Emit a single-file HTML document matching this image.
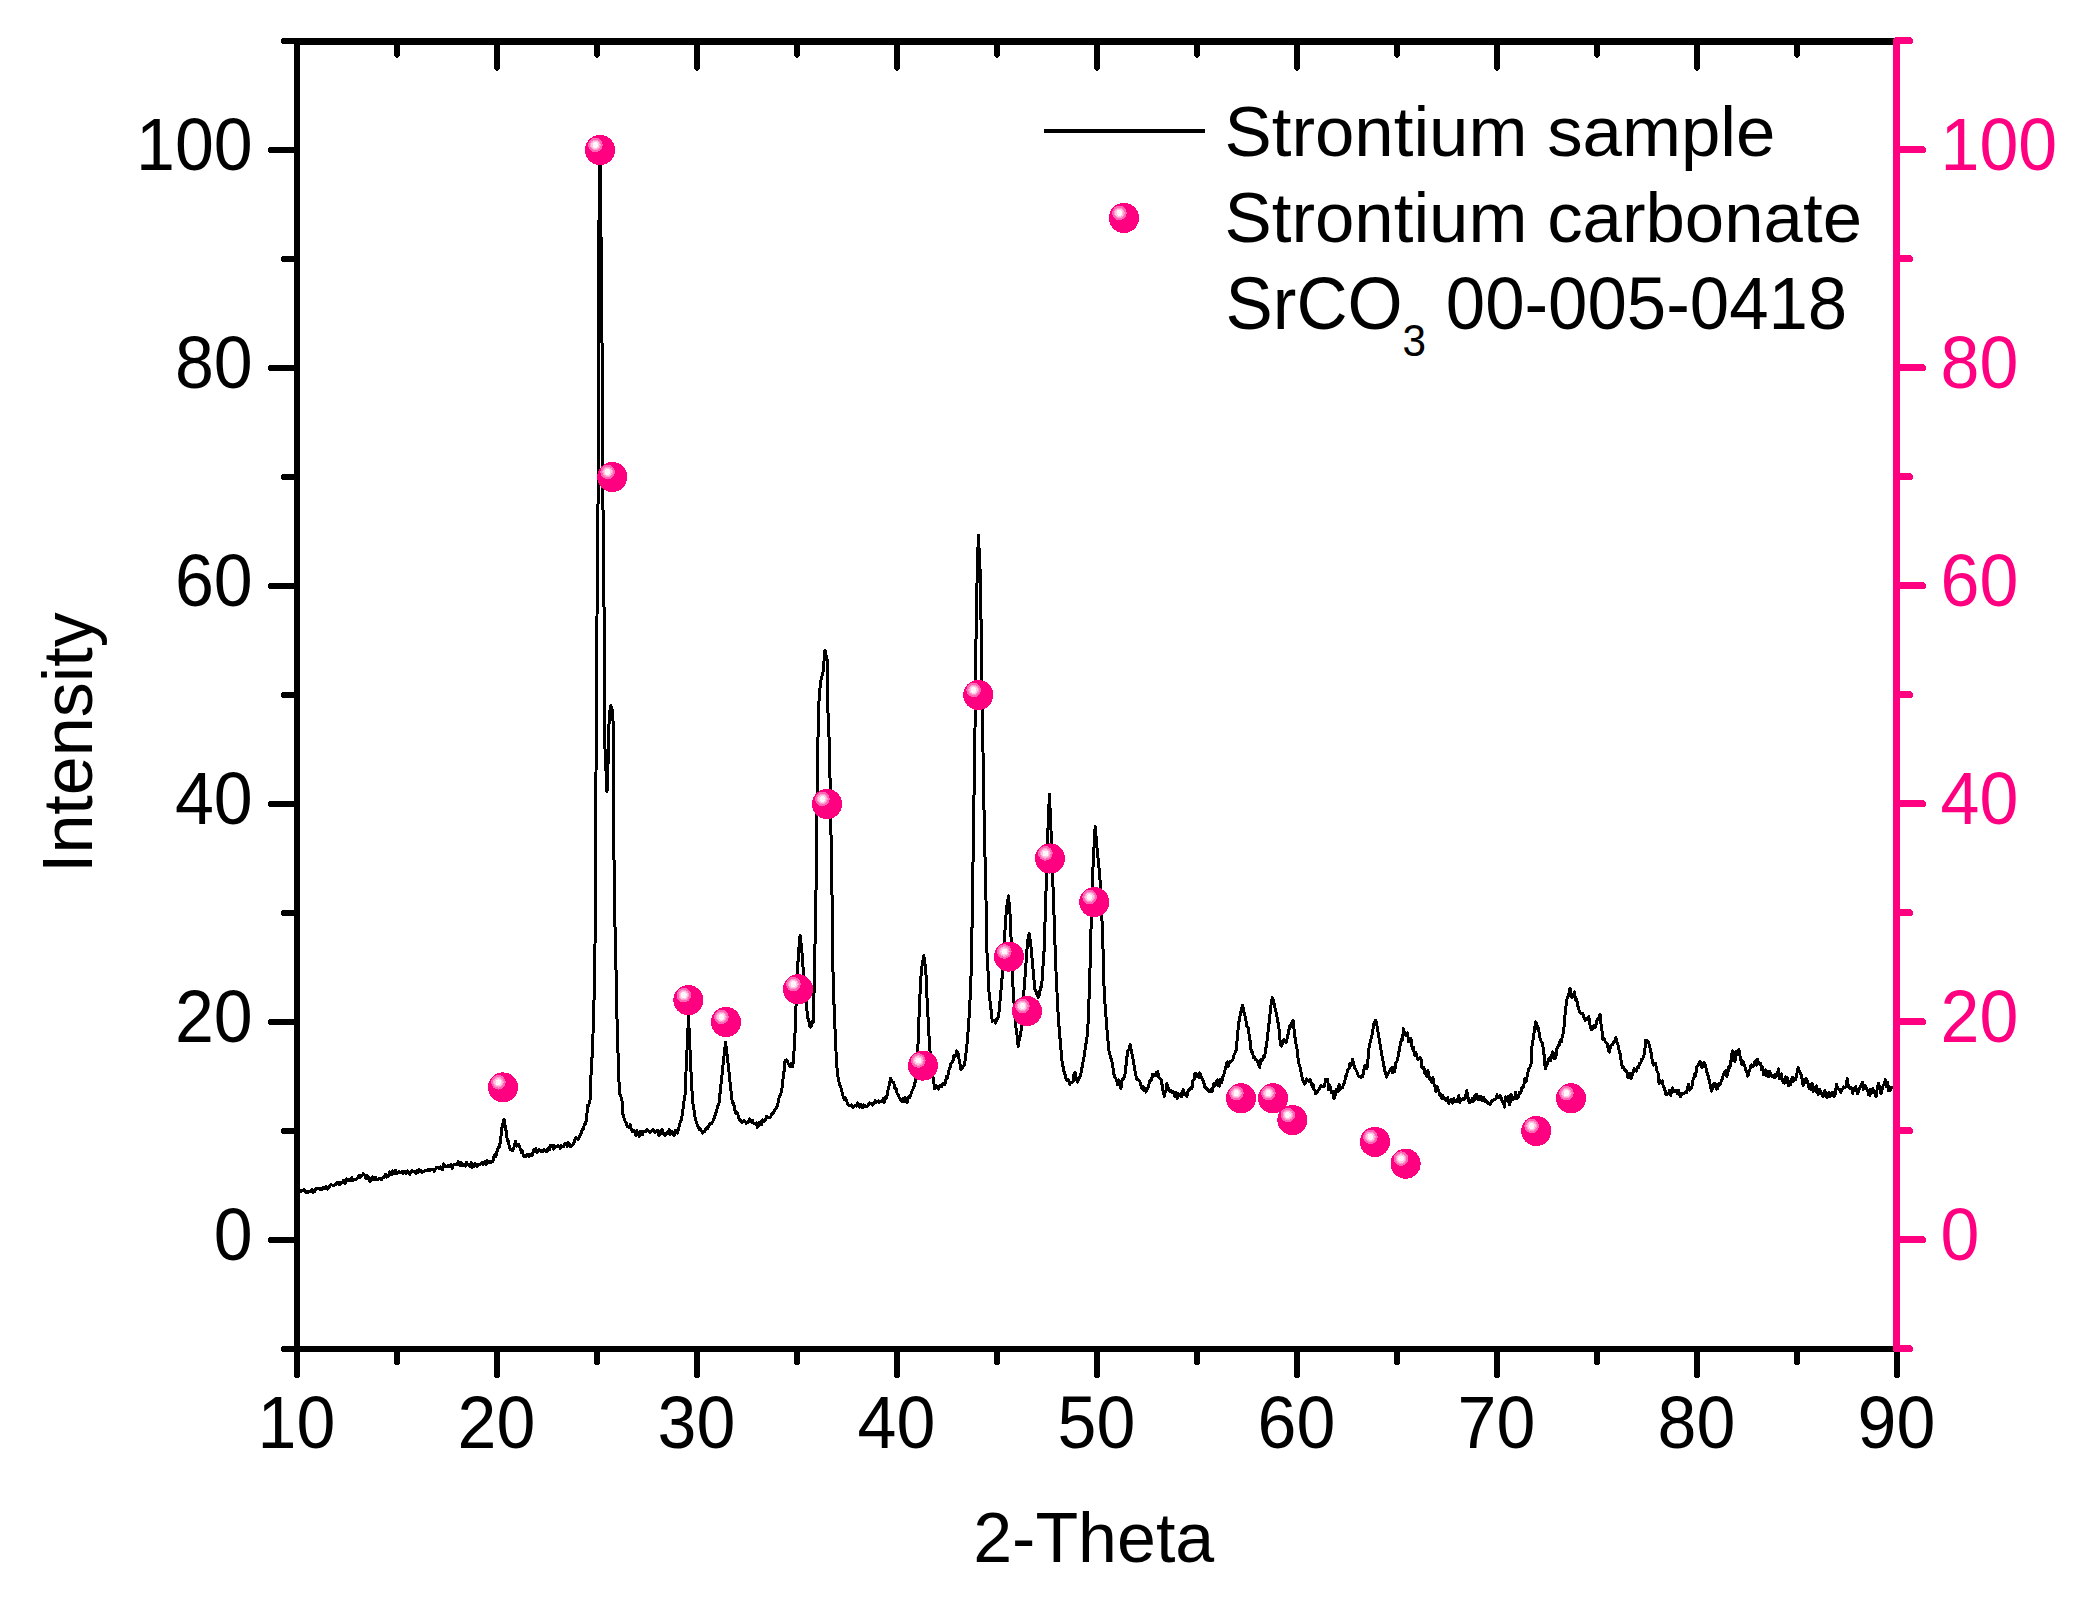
<!DOCTYPE html>
<html lang="en"><head><meta charset="utf-8"><title>XRD Strontium sample</title>
<style>html,body{margin:0;padding:0;background:#fff;overflow:hidden}svg{display:block}</style></head>
<body>
<svg width="2099" height="1615" viewBox="0 0 2099 1615" font-family='"Liberation Sans", sans-serif' font-size="70.8">
<rect width="2099" height="1615" fill="#fff"/>
<path d="M299.9 1190.3 L300.9 1191.3 L301.9 1190.5 L302.9 1190.4 L303.9 1189.7 L304.9 1190.7 L305.9 1192.3 L306.9 1191.5 L307.9 1192.3 L308.9 1191.5 L309.9 1191.7 L310.9 1191.5 L311.9 1189.3 L312.9 1192.4 L313.9 1191.7 L314.9 1191.4 L315.9 1188.4 L317.0 1188.0 L318.0 1188.7 L319.0 1188.9 L320.0 1189.6 L321.0 1188.8 L322.1 1189.2 L323.1 1187.4 L324.1 1188.3 L325.1 1188.1 L326.1 1186.5 L327.1 1189.1 L328.1 1187.4 L329.2 1187.8 L330.2 1185.3 L331.2 1184.8 L332.2 1185.0 L333.2 1185.0 L334.2 1185.6 L335.2 1184.8 L336.2 1183.7 L337.3 1182.7 L338.3 1183.0 L339.3 1184.8 L340.3 1182.0 L341.3 1183.0 L342.2 1183.0 L343.2 1180.3 L344.2 1182.0 L345.2 1183.3 L346.1 1178.9 L347.1 1180.7 L348.1 1180.7 L349.1 1179.5 L350.0 1180.9 L351.0 1179.9 L352.0 1177.8 L353.0 1180.3 L354.1 1179.7 L355.1 1179.7 L356.1 1179.9 L357.1 1178.2 L358.1 1177.5 L359.1 1175.3 L360.1 1177.3 L361.2 1175.4 L362.2 1175.2 L363.2 1173.8 L364.1 1174.8 L365.1 1175.9 L366.1 1178.8 L367.0 1175.1 L367.9 1176.4 L368.9 1179.2 L369.9 1181.3 L370.8 1180.7 L371.8 1177.4 L372.7 1176.8 L373.7 1179.8 L374.7 1178.2 L375.7 1177.5 L376.6 1180.0 L377.6 1179.9 L378.6 1178.5 L379.6 1178.4 L380.5 1178.5 L381.5 1179.7 L382.5 1178.1 L383.5 1177.6 L384.5 1177.2 L385.6 1174.1 L386.6 1177.3 L387.6 1176.5 L388.6 1175.5 L389.6 1171.9 L390.6 1173.2 L391.6 1174.7 L392.6 1170.9 L393.7 1172.6 L394.7 1173.7 L395.7 1170.3 L396.7 1173.7 L397.7 1172.4 L398.7 1171.5 L399.8 1172.2 L400.8 1172.6 L401.8 1172.0 L402.8 1173.4 L403.8 1171.1 L404.9 1171.4 L405.9 1173.4 L406.9 1172.1 L407.9 1171.0 L408.9 1173.4 L410.0 1174.1 L411.0 1171.7 L412.0 1170.5 L413.0 1172.0 L414.0 1171.8 L415.0 1171.4 L416.1 1173.5 L417.1 1170.2 L418.1 1173.0 L419.1 1169.6 L420.1 1170.0 L421.1 1171.8 L422.1 1172.3 L423.1 1171.7 L424.2 1170.9 L425.2 1170.5 L426.2 1170.4 L427.2 1170.8 L428.2 1169.6 L429.2 1170.0 L430.3 1170.2 L431.3 1169.2 L432.3 1170.0 L433.3 1169.6 L434.3 1171.3 L435.4 1168.8 L436.4 1167.6 L437.4 1167.5 L438.4 1167.8 L439.4 1168.8 L440.5 1167.0 L441.5 1167.7 L442.5 1169.5 L443.4 1163.9 L444.4 1165.1 L445.4 1166.8 L446.3 1166.8 L447.2 1166.4 L448.2 1165.3 L449.2 1166.6 L450.1 1165.9 L451.1 1164.7 L452.1 1168.3 L453.1 1165.7 L454.2 1164.4 L455.2 1164.9 L456.2 1164.6 L457.2 1164.7 L458.2 1161.7 L459.2 1163.9 L460.2 1165.9 L461.2 1162.8 L462.3 1164.2 L463.3 1165.5 L464.3 1165.3 L465.3 1166.0 L466.3 1162.0 L467.2 1164.1 L468.2 1164.4 L469.1 1165.9 L470.1 1166.9 L471.1 1162.7 L472.0 1167.4 L473.0 1164.2 L474.0 1166.8 L475.0 1163.4 L476.0 1165.3 L477.0 1166.3 L478.0 1164.1 L479.1 1164.2 L480.1 1164.7 L481.1 1163.4 L482.1 1162.7 L483.1 1164.6 L484.1 1163.5 L485.1 1161.3 L486.1 1164.7 L487.1 1160.1 L488.1 1163.0 L489.0 1161.3 L490.0 1161.9 L491.0 1162.7 L492.0 1162.0 L492.9 1161.1 L493.9 1156.5 L494.9 1155.0 L495.8 1156.5 L496.8 1152.0 L497.7 1149.6 L498.7 1146.7 L499.6 1146.4 L500.8 1137.8 L501.9 1128.1 L502.9 1123.9 L503.9 1119.0 L504.8 1124.2 L505.7 1128.1 L506.5 1133.8 L507.3 1140.3 L508.2 1141.2 L509.2 1146.3 L510.2 1149.9 L511.1 1149.0 L512.2 1150.9 L513.4 1148.5 L514.5 1145.4 L515.6 1141.3 L516.6 1146.3 L517.7 1144.5 L518.7 1144.1 L519.6 1147.3 L520.5 1149.1 L521.5 1152.5 L522.4 1150.7 L523.3 1155.6 L524.4 1156.5 L525.5 1156.9 L526.7 1154.9 L527.8 1154.5 L528.8 1156.5 L529.8 1154.7 L530.9 1154.2 L531.9 1155.6 L532.9 1152.7 L533.9 1149.4 L535.0 1151.5 L536.0 1148.9 L537.0 1152.2 L538.0 1151.3 L539.0 1149.7 L540.0 1150.4 L541.1 1151.4 L542.1 1150.2 L543.1 1151.7 L544.1 1149.6 L545.1 1151.0 L546.2 1151.4 L547.2 1151.4 L548.2 1147.9 L549.2 1150.0 L550.2 1145.8 L551.2 1146.6 L552.2 1145.1 L553.3 1149.2 L554.3 1145.7 L555.3 1147.2 L556.3 1146.6 L557.3 1146.6 L558.3 1145.6 L559.3 1146.5 L560.3 1148.5 L561.4 1145.7 L562.4 1146.2 L563.4 1146.6 L564.4 1144.6 L565.4 1143.1 L566.3 1144.1 L567.3 1146.5 L568.2 1142.5 L569.2 1144.0 L570.2 1146.4 L571.1 1146.1 L572.1 1144.9 L573.0 1144.8 L574.0 1142.7 L575.0 1139.5 L575.9 1137.7 L577.0 1138.2 L578.1 1139.6 L579.3 1136.5 L580.4 1135.1 L581.4 1132.8 L582.4 1129.2 L583.4 1128.8 L584.4 1124.3 L585.4 1123.6 L586.4 1120.1 L587.8 1105.0 L588.7 1105.7 L589.5 1101.3 L590.4 1099.3 L590.8 1078.4 L591.9 1060.6 L593.0 1033.8 L594.1 996.7 L595.0 944.6 L595.6 900.0 L595.5 807.0 L596.0 775.0 L596.5 690.0 L597.0 618.0 L597.6 530.0 L598.4 480.0 L598.4 340.0 L598.5 285.0 L599.5 160.0 L600.0 151.0 L600.4 160.0 L601.4 285.0 L601.5 340.0 L602.6 347.0 L602.6 480.0 L603.3 530.0 L603.5 580.0 L604.4 628.0 L604.6 740.0 L605.8 765.9 L607.0 792.0 L607.8 771.0 L608.5 750.0 L609.2 715.0 L610.0 710.6 L610.9 705.8 L611.8 708.9 L612.8 712.0 L613.4 736.0 L613.5 836.0 L614.3 873.0 L614.3 900.0 L614.9 922.3 L615.8 959.5 L616.4 989.2 L617.0 1019.0 L617.9 1048.7 L618.8 1078.4 L619.8 1093.7 L620.9 1096.3 L622.0 1100.7 L622.8 1113.8 L623.9 1117.5 L625.0 1121.1 L626.0 1122.6 L627.0 1126.0 L628.0 1127.0 L629.1 1127.6 L630.2 1124.7 L631.4 1130.1 L632.5 1131.7 L633.6 1130.2 L634.7 1130.9 L635.8 1135.5 L636.9 1130.8 L638.0 1133.8 L639.1 1136.1 L640.3 1131.0 L641.4 1133.1 L642.5 1134.5 L643.6 1131.1 L644.7 1131.7 L645.8 1131.9 L646.8 1129.3 L647.9 1130.7 L649.0 1131.5 L650.0 1132.5 L651.0 1131.0 L652.0 1130.7 L653.0 1129.6 L654.0 1130.8 L655.0 1132.8 L656.0 1131.8 L657.0 1130.5 L658.0 1130.6 L659.0 1135.5 L660.0 1134.0 L661.0 1133.4 L662.0 1129.1 L663.0 1133.7 L664.0 1133.6 L665.0 1135.6 L666.0 1133.6 L667.1 1132.8 L668.1 1133.7 L669.2 1129.8 L670.2 1134.4 L671.2 1133.3 L672.3 1131.6 L673.3 1134.7 L674.4 1135.4 L675.4 1130.4 L676.5 1131.5 L677.5 1133.0 L678.4 1129.7 L679.4 1125.6 L680.3 1121.6 L681.2 1120.0 L682.2 1114.7 L683.1 1108.0 L684.1 1100.7 L685.0 1095.0 L686.0 1071.9 L687.0 1050.0 L687.8 1033.3 L688.5 1015.0 L689.2 1033.0 L690.0 1050.0 L691.2 1075.9 L692.5 1100.0 L693.4 1106.6 L694.4 1112.1 L695.3 1118.9 L696.2 1121.6 L697.3 1125.1 L698.3 1127.4 L699.4 1129.6 L700.4 1128.9 L701.5 1131.1 L702.5 1133.2 L703.5 1132.1 L704.5 1131.5 L705.5 1129.8 L706.5 1128.0 L707.5 1128.8 L708.5 1126.6 L709.5 1124.2 L710.5 1123.5 L711.5 1123.5 L712.5 1122.3 L713.5 1119.8 L714.6 1116.7 L715.6 1114.0 L716.7 1110.6 L717.7 1105.9 L718.8 1105.0 L719.7 1096.5 L720.6 1088.0 L721.6 1079.0 L722.5 1070.0 L723.5 1060.7 L724.5 1051.9 L725.5 1042.5 L726.6 1051.2 L727.7 1059.9 L728.8 1070.0 L729.7 1078.8 L730.6 1087.1 L731.6 1096.6 L732.5 1103.3 L733.4 1103.3 L734.4 1107.1 L735.3 1113.2 L736.2 1111.9 L737.2 1112.2 L738.1 1115.0 L739.1 1119.0 L740.0 1120.8 L741.0 1120.4 L742.1 1122.6 L743.1 1121.4 L744.2 1120.3 L745.2 1121.4 L746.2 1123.2 L747.3 1122.2 L748.3 1122.3 L749.4 1119.0 L750.4 1120.6 L751.5 1122.1 L752.5 1120.5 L753.5 1123.3 L754.5 1123.1 L755.5 1124.1 L756.5 1122.9 L757.5 1127.3 L758.5 1125.1 L759.6 1122.1 L760.6 1122.0 L761.7 1124.8 L762.7 1120.0 L763.8 1121.3 L764.8 1120.8 L765.8 1118.6 L766.9 1116.0 L767.9 1117.6 L769.0 1117.2 L770.0 1117.9 L771.0 1116.1 L771.9 1113.6 L772.9 1113.7 L773.8 1112.0 L774.8 1110.2 L775.7 1108.7 L776.7 1107.0 L777.7 1105.2 L778.7 1099.0 L779.7 1096.3 L780.7 1094.0 L781.7 1090.7 L782.8 1081.1 L783.9 1072.7 L785.0 1060.7 L785.9 1060.4 L786.7 1059.9 L787.8 1062.7 L788.9 1064.4 L790.0 1066.9 L791.1 1063.3 L792.3 1067.0 L793.4 1062.3 L794.2 1048.4 L795.0 1033.9 L795.9 1009.3 L796.7 983.7 L797.7 966.9 L798.7 950.3 L800.1 935.2 L801.0 942.7 L801.8 950.3 L803.0 966.9 L804.3 983.7 L805.4 995.2 L806.5 1006.4 L807.6 1017.1 L808.9 1021.2 L810.1 1027.1 L811.1 1026.6 L812.1 1020.9 L813.1 1022.2 L814.3 983.7 L815.5 916.9 L816.4 870.0 L817.6 752.0 L818.4 723.2 L819.2 694.7 L820.0 687.8 L820.8 680.9 L822.0 676.1 L823.1 671.8 L824.0 660.9 L825.0 650.0 L826.1 655.2 L827.3 660.3 L827.7 706.0 L828.7 729.0 L829.6 752.0 L830.7 820.7 L831.8 870.0 L832.2 916.9 L833.2 983.7 L834.2 1009.2 L835.2 1033.9 L836.0 1051.4 L836.9 1067.3 L837.7 1075.4 L838.5 1080.1 L839.5 1084.5 L840.5 1086.5 L841.5 1089.5 L842.5 1094.2 L843.5 1097.4 L844.5 1099.9 L845.5 1098.0 L846.6 1100.3 L847.6 1104.0 L848.6 1105.4 L849.6 1105.3 L850.6 1105.8 L851.6 1104.7 L852.6 1107.4 L853.6 1106.9 L854.6 1106.2 L855.6 1105.3 L856.6 1106.3 L857.6 1102.9 L858.6 1105.1 L859.6 1107.0 L860.6 1104.5 L861.6 1107.5 L862.6 1107.5 L863.6 1105.0 L864.6 1106.5 L865.5 1105.9 L866.5 1106.7 L867.4 1106.5 L868.4 1104.9 L869.3 1103.0 L870.3 1103.7 L871.3 1103.7 L872.3 1105.0 L873.3 1104.0 L874.3 1102.1 L875.3 1100.8 L876.3 1102.4 L877.3 1101.6 L878.3 1100.8 L879.3 1102.4 L880.3 1101.5 L881.3 1101.6 L882.2 1101.4 L883.2 1098.8 L884.1 1102.4 L885.1 1097.1 L886.0 1098.6 L887.0 1095.7 L888.2 1089.1 L889.5 1084.3 L890.5 1078.2 L891.6 1080.6 L892.7 1082.1 L893.7 1082.6 L894.8 1088.4 L895.9 1088.2 L897.0 1093.0 L898.0 1094.6 L899.1 1097.4 L900.2 1099.1 L901.2 1100.4 L902.2 1101.3 L903.1 1098.2 L904.1 1101.9 L905.1 1097.8 L906.0 1099.7 L907.0 1102.8 L908.0 1097.3 L909.0 1096.4 L910.0 1097.1 L911.0 1093.8 L912.0 1091.0 L913.1 1089.0 L914.3 1085.6 L915.4 1080.7 L916.6 1064.3 L917.9 1047.2 L918.8 1023.4 L919.6 1000.4 L920.5 986.3 L921.3 970.3 L922.5 962.9 L923.8 955.3 L924.8 962.8 L925.8 970.3 L927.1 1000.4 L928.4 1023.9 L929.6 1047.2 L930.7 1057.0 L931.9 1068.0 L933.0 1077.3 L933.8 1081.9 L934.6 1088.5 L935.6 1086.3 L936.6 1085.8 L937.5 1088.2 L938.5 1089.2 L939.5 1086.6 L940.5 1085.3 L941.5 1086.8 L942.5 1084.1 L943.5 1083.6 L944.5 1084.6 L945.5 1082.7 L946.5 1076.4 L947.6 1078.0 L948.7 1070.7 L949.7 1068.7 L950.8 1063.9 L951.9 1062.8 L953.0 1060.6 L953.9 1055.9 L954.7 1056.3 L955.8 1055.6 L956.9 1050.9 L958.0 1053.1 L958.9 1058.5 L959.7 1062.6 L961.0 1069.4 L962.2 1068.2 L963.5 1066.3 L964.7 1063.9 L966.0 1052.9 L967.2 1042.2 L968.5 1025.4 L969.7 1008.8 L970.5 987.3 L971.4 967.0 L972.3 908.5 L972.9 870.0 L974.3 774.9 L975.7 683.2 L976.1 628.3 L977.3 568.7 L978.4 535.5 L979.2 552.1 L980.0 568.7 L981.2 628.3 L981.9 683.2 L983.0 752.0 L984.2 820.7 L985.3 870.0 L986.0 900.1 L986.9 950.3 L988.0 971.1 L989.0 992.1 L990.1 1001.5 L991.2 1011.2 L992.3 1021.4 L993.4 1020.9 L994.5 1020.5 L995.6 1023.3 L996.7 1018.5 L997.9 1018.6 L999.0 1012.1 L1000.1 1000.3 L1001.2 987.6 L1002.3 975.4 L1003.5 954.5 L1004.8 933.6 L1005.6 921.0 L1006.5 908.5 L1007.5 902.2 L1008.5 896.0 L1009.4 906.4 L1010.3 916.9 L1011.5 950.3 L1012.4 971.2 L1013.2 992.1 L1014.5 1009.1 L1015.7 1025.5 L1017.0 1034.6 L1018.2 1046.9 L1019.5 1037.9 L1020.7 1035.5 L1022.0 1018.0 L1023.2 1000.4 L1024.5 983.8 L1025.7 967.0 L1026.7 953.5 L1027.7 940.3 L1029.1 933.6 L1029.9 938.6 L1030.7 943.6 L1031.8 955.3 L1032.8 967.0 L1033.8 977.9 L1034.9 989.5 L1036.0 991.0 L1037.2 995.0 L1038.3 997.2 L1039.4 995.2 L1040.5 986.8 L1041.6 987.1 L1042.8 968.6 L1044.1 950.3 L1044.9 925.2 L1045.8 900.1 L1046.6 866.7 L1047.4 843.6 L1048.4 818.9 L1049.4 794.3 L1050.5 818.9 L1051.6 843.6 L1052.5 873.4 L1053.3 895.2 L1054.1 916.9 L1054.9 941.9 L1055.8 967.0 L1057.0 992.4 L1058.3 1017.1 L1059.4 1031.5 L1060.6 1045.1 L1061.7 1058.9 L1062.8 1065.3 L1063.9 1071.1 L1065.0 1074.6 L1066.0 1078.4 L1067.0 1080.4 L1068.0 1079.6 L1068.9 1081.6 L1069.9 1084.3 L1070.9 1082.3 L1071.9 1082.3 L1073.0 1081.7 L1074.0 1074.2 L1075.0 1072.3 L1075.8 1076.6 L1076.7 1080.4 L1077.8 1082.0 L1078.8 1078.0 L1079.9 1077.4 L1080.9 1074.0 L1082.0 1067.5 L1083.1 1061.7 L1084.2 1055.6 L1085.3 1048.4 L1086.5 1040.1 L1087.6 1033.9 L1088.6 1009.6 L1089.6 983.7 L1090.9 933.6 L1092.3 883.4 L1093.3 860.0 L1094.2 843.3 L1095.2 826.4 L1096.2 838.1 L1097.2 850.0 L1098.1 858.4 L1098.9 866.7 L1099.8 875.0 L1100.7 894.6 L1101.7 914.1 L1102.6 933.6 L1103.4 963.4 L1104.2 993.4 L1105.5 1010.0 L1106.7 1026.9 L1108.0 1041.1 L1109.2 1052.5 L1110.2 1055.8 L1111.3 1059.3 L1112.4 1063.7 L1113.4 1071.0 L1114.5 1077.0 L1115.6 1077.8 L1116.7 1080.8 L1117.6 1084.9 L1118.6 1079.7 L1119.5 1081.0 L1120.9 1089.0 L1122.0 1079.7 L1123.0 1079.6 L1124.1 1077.2 L1125.1 1073.7 L1126.3 1063.0 L1127.6 1051.3 L1128.8 1049.6 L1130.1 1044.4 L1131.3 1050.8 L1132.6 1056.9 L1133.7 1062.8 L1134.8 1070.2 L1135.9 1075.9 L1136.9 1079.3 L1137.9 1079.4 L1138.9 1080.8 L1139.9 1081.7 L1140.9 1085.8 L1141.9 1088.1 L1142.9 1086.3 L1144.0 1090.4 L1145.0 1088.8 L1146.0 1092.1 L1147.2 1089.3 L1148.5 1086.7 L1149.5 1081.4 L1150.5 1080.6 L1151.5 1079.6 L1152.5 1074.7 L1153.5 1076.2 L1154.6 1074.3 L1155.7 1075.8 L1156.8 1072.2 L1157.8 1071.8 L1158.9 1077.1 L1160.0 1078.8 L1161.0 1079.5 L1162.1 1085.0 L1163.2 1091.7 L1164.3 1096.5 L1165.2 1092.4 L1166.0 1091.3 L1166.9 1083.8 L1167.9 1086.6 L1168.9 1089.0 L1169.9 1091.7 L1170.9 1090.7 L1171.9 1092.6 L1172.9 1091.1 L1174.0 1093.5 L1175.0 1096.6 L1176.1 1092.3 L1177.1 1098.6 L1178.1 1093.2 L1179.2 1095.0 L1180.2 1095.8 L1181.2 1097.0 L1182.1 1091.9 L1183.1 1089.7 L1184.0 1094.7 L1185.0 1094.6 L1185.9 1093.8 L1186.9 1096.5 L1187.9 1091.1 L1188.9 1089.9 L1189.9 1089.9 L1190.9 1087.5 L1191.9 1088.8 L1193.0 1080.3 L1194.0 1079.6 L1195.0 1073.3 L1196.1 1077.0 L1197.0 1073.9 L1197.9 1075.9 L1198.9 1077.8 L1199.8 1072.8 L1200.8 1075.3 L1201.8 1077.9 L1202.8 1080.3 L1203.8 1082.6 L1204.9 1087.1 L1206.0 1087.7 L1207.0 1089.6 L1208.0 1089.3 L1209.0 1091.7 L1210.0 1091.1 L1211.0 1089.9 L1212.0 1091.8 L1213.0 1087.6 L1214.1 1083.0 L1215.2 1085.8 L1216.2 1081.3 L1217.3 1080.0 L1218.4 1085.9 L1219.5 1086.1 L1220.5 1079.2 L1221.6 1082.9 L1222.7 1077.3 L1223.7 1075.5 L1225.0 1070.3 L1226.2 1065.8 L1227.2 1061.9 L1228.1 1066.2 L1229.1 1063.3 L1230.1 1061.6 L1231.0 1062.0 L1232.0 1060.5 L1233.0 1059.2 L1234.1 1054.5 L1235.2 1052.7 L1236.2 1050.3 L1237.5 1035.6 L1238.7 1023.5 L1240.0 1015.7 L1241.2 1009.9 L1242.6 1005.1 L1243.6 1011.0 L1244.6 1014.4 L1245.7 1018.8 L1246.8 1026.3 L1247.9 1026.9 L1249.0 1033.9 L1250.2 1041.8 L1251.3 1052.1 L1252.4 1052.0 L1253.5 1057.8 L1254.6 1057.1 L1255.6 1059.9 L1256.6 1060.1 L1257.6 1061.4 L1258.6 1064.3 L1259.6 1067.4 L1260.6 1060.2 L1261.6 1059.2 L1262.6 1060.3 L1263.6 1055.9 L1264.6 1056.9 L1265.8 1048.9 L1267.1 1040.2 L1268.3 1029.7 L1269.6 1018.5 L1270.4 1010.0 L1271.3 1002.9 L1272.4 997.7 L1273.5 1000.1 L1274.5 1005.6 L1275.5 1010.1 L1276.6 1014.7 L1277.7 1020.9 L1278.8 1026.9 L1279.7 1036.1 L1280.5 1045.2 L1281.6 1046.0 L1282.8 1042.3 L1283.9 1039.4 L1285.0 1040.8 L1286.1 1042.5 L1287.2 1038.6 L1288.5 1031.9 L1289.7 1026.0 L1290.8 1026.2 L1291.9 1022.4 L1293.0 1020.2 L1293.8 1026.9 L1294.7 1035.2 L1296.0 1044.2 L1297.2 1050.3 L1298.1 1058.4 L1298.9 1063.6 L1300.0 1066.8 L1301.1 1072.5 L1302.2 1077.9 L1303.5 1082.0 L1304.7 1084.2 L1305.8 1081.4 L1306.8 1078.9 L1307.9 1080.5 L1308.9 1081.7 L1310.0 1079.5 L1311.0 1081.9 L1312.0 1086.3 L1313.1 1084.5 L1314.0 1089.6 L1314.9 1090.7 L1315.9 1094.0 L1316.8 1093.0 L1317.8 1090.7 L1318.7 1089.9 L1319.6 1088.8 L1320.6 1085.6 L1321.6 1085.9 L1322.6 1086.3 L1323.6 1086.1 L1324.6 1086.0 L1325.6 1079.5 L1326.6 1081.8 L1327.6 1079.4 L1328.7 1089.8 L1329.7 1085.6 L1330.7 1088.6 L1331.8 1092.9 L1332.9 1091.9 L1334.0 1098.9 L1335.0 1095.5 L1336.1 1089.3 L1337.2 1091.6 L1338.2 1091.3 L1339.2 1084.2 L1340.3 1089.6 L1341.4 1087.9 L1342.4 1088.0 L1343.4 1084.6 L1344.5 1083.2 L1345.5 1076.5 L1346.5 1075.6 L1347.8 1069.5 L1349.0 1068.6 L1349.9 1063.3 L1350.8 1063.0 L1351.8 1065.1 L1352.7 1059.4 L1353.7 1063.9 L1354.7 1067.7 L1355.7 1069.5 L1356.7 1071.1 L1357.7 1074.1 L1358.7 1076.6 L1359.6 1076.3 L1360.6 1077.3 L1361.6 1076.9 L1362.7 1076.6 L1363.8 1069.5 L1364.9 1065.8 L1366.2 1069.0 L1367.4 1067.0 L1368.2 1057.0 L1369.1 1046.9 L1370.2 1042.2 L1371.3 1037.6 L1372.4 1033.5 L1373.2 1027.5 L1374.1 1023.2 L1374.9 1021.8 L1375.8 1020.2 L1377.0 1026.0 L1378.3 1033.5 L1379.4 1040.5 L1380.5 1047.0 L1381.6 1053.6 L1382.8 1059.6 L1384.1 1067.0 L1385.3 1072.9 L1386.6 1077.2 L1387.7 1073.5 L1388.9 1072.4 L1390.0 1069.9 L1391.2 1068.0 L1392.5 1073.0 L1393.5 1067.5 L1394.6 1071.9 L1395.7 1063.4 L1396.7 1062.0 L1398.0 1057.0 L1399.2 1050.3 L1400.5 1043.2 L1401.7 1038.7 L1402.6 1040.1 L1403.4 1028.6 L1404.4 1032.8 L1405.5 1035.1 L1406.5 1034.0 L1407.5 1032.9 L1408.6 1041.7 L1409.8 1039.6 L1410.9 1038.2 L1412.2 1048.4 L1413.4 1047.2 L1414.5 1055.1 L1415.6 1052.6 L1416.7 1055.6 L1417.8 1059.8 L1418.8 1058.9 L1419.9 1057.2 L1420.9 1058.2 L1421.9 1067.0 L1422.9 1068.4 L1423.9 1067.2 L1424.9 1073.3 L1425.9 1074.8 L1426.9 1076.2 L1427.9 1070.7 L1428.9 1076.0 L1429.9 1079.7 L1430.9 1080.4 L1431.9 1082.4 L1432.9 1077.0 L1434.0 1084.1 L1435.0 1086.5 L1436.0 1092.0 L1437.0 1086.5 L1438.0 1089.6 L1439.0 1092.1 L1440.0 1095.7 L1441.0 1094.4 L1442.0 1099.0 L1442.9 1095.5 L1443.8 1098.9 L1444.8 1098.1 L1445.8 1100.6 L1446.7 1099.6 L1447.7 1097.5 L1448.7 1103.5 L1449.7 1101.7 L1450.7 1099.6 L1451.7 1101.3 L1452.7 1103.0 L1453.7 1098.4 L1454.7 1100.3 L1455.7 1101.7 L1456.7 1101.6 L1457.8 1099.4 L1458.8 1095.2 L1459.8 1102.6 L1460.9 1100.3 L1462.0 1099.4 L1463.0 1098.5 L1464.0 1099.5 L1465.1 1098.7 L1465.9 1094.3 L1466.7 1090.4 L1468.0 1096.8 L1469.2 1102.9 L1470.2 1102.1 L1471.3 1100.9 L1472.3 1098.5 L1473.4 1101.5 L1474.5 1095.8 L1475.5 1099.2 L1476.5 1094.2 L1477.6 1096.2 L1478.6 1099.5 L1479.6 1097.8 L1480.5 1096.6 L1481.5 1099.4 L1482.5 1100.6 L1483.5 1097.2 L1484.4 1099.9 L1485.4 1101.8 L1486.3 1100.5 L1487.3 1101.9 L1488.2 1103.5 L1489.2 1103.7 L1490.1 1104.2 L1491.1 1103.0 L1492.1 1100.5 L1493.1 1100.7 L1494.1 1099.6 L1495.1 1099.1 L1496.0 1098.9 L1497.0 1094.8 L1498.0 1097.6 L1499.0 1097.9 L1500.0 1095.2 L1501.0 1096.9 L1502.2 1101.2 L1503.5 1102.5 L1504.5 1107.2 L1505.6 1096.7 L1506.7 1100.8 L1507.7 1096.5 L1508.8 1102.6 L1509.8 1104.9 L1510.9 1094.1 L1511.9 1099.0 L1512.9 1099.6 L1513.8 1097.3 L1514.8 1098.9 L1515.7 1092.1 L1516.7 1098.9 L1517.6 1097.4 L1518.6 1096.3 L1519.7 1092.3 L1520.8 1092.7 L1521.9 1087.6 L1523.0 1087.5 L1524.0 1084.2 L1525.0 1078.5 L1526.1 1082.0 L1527.3 1075.3 L1528.6 1069.1 L1529.8 1067.9 L1531.1 1063.6 L1531.9 1046.9 L1532.8 1041.3 L1533.6 1036.9 L1534.6 1028.5 L1535.6 1021.7 L1536.6 1023.3 L1537.6 1028.7 L1538.6 1028.5 L1539.8 1037.5 L1541.1 1041.4 L1542.3 1042.4 L1543.6 1050.3 L1544.4 1058.4 L1545.3 1068.9 L1546.4 1065.8 L1547.5 1063.9 L1548.6 1058.8 L1549.6 1057.6 L1550.6 1060.4 L1551.7 1055.1 L1552.7 1052.0 L1553.7 1052.9 L1554.8 1058.9 L1555.9 1056.5 L1557.0 1048.7 L1558.1 1045.8 L1559.2 1045.3 L1560.3 1040.1 L1561.4 1041.7 L1562.6 1035.0 L1563.7 1031.9 L1564.7 1017.7 L1565.7 1008.2 L1566.8 999.6 L1567.9 996.8 L1569.0 992.8 L1570.0 988.4 L1571.0 993.4 L1572.0 997.6 L1573.2 995.9 L1574.5 991.8 L1575.4 1000.1 L1576.7 999.5 L1577.9 1006.0 L1578.8 1009.0 L1579.6 1012.2 L1580.7 1012.8 L1581.8 1014.0 L1582.9 1013.6 L1584.2 1018.2 L1585.4 1020.5 L1586.5 1018.8 L1587.7 1019.6 L1588.8 1016.7 L1590.0 1024.7 L1591.3 1029.7 L1592.3 1029.0 L1593.3 1026.6 L1594.4 1025.6 L1595.4 1027.5 L1596.7 1021.0 L1597.9 1018.6 L1599.0 1017.0 L1600.0 1014.3 L1601.3 1026.9 L1602.2 1032.1 L1603.0 1040.1 L1604.1 1038.3 L1605.2 1041.6 L1606.3 1043.2 L1607.4 1044.1 L1608.5 1050.6 L1609.6 1052.0 L1610.5 1045.8 L1611.3 1045.2 L1612.2 1044.8 L1613.5 1042.2 L1614.7 1041.5 L1615.8 1037.7 L1616.9 1041.4 L1618.0 1045.2 L1619.2 1050.6 L1620.5 1055.3 L1621.3 1062.2 L1622.2 1067.3 L1623.3 1066.6 L1624.4 1069.5 L1625.5 1070.4 L1626.6 1070.7 L1627.8 1077.3 L1628.9 1073.0 L1629.9 1073.9 L1631.0 1078.5 L1632.0 1075.5 L1633.0 1072.8 L1634.1 1068.8 L1635.3 1069.7 L1636.4 1071.0 L1637.5 1067.3 L1638.5 1067.6 L1639.5 1063.5 L1640.6 1063.3 L1641.7 1059.3 L1642.8 1058.6 L1643.9 1055.3 L1644.8 1050.4 L1645.6 1040.1 L1646.4 1041.7 L1647.3 1040.8 L1648.5 1042.1 L1649.8 1046.9 L1651.0 1052.5 L1652.3 1060.5 L1653.4 1065.2 L1654.5 1063.5 L1655.6 1063.6 L1656.8 1070.5 L1658.1 1073.2 L1659.1 1083.4 L1660.2 1080.5 L1661.2 1081.9 L1662.3 1080.9 L1663.4 1086.9 L1664.5 1087.6 L1665.6 1093.9 L1666.6 1094.5 L1667.6 1093.1 L1668.7 1093.4 L1669.7 1090.2 L1670.7 1095.6 L1671.6 1090.5 L1672.6 1087.7 L1673.5 1091.9 L1674.5 1090.6 L1675.4 1090.1 L1676.4 1091.9 L1677.3 1093.6 L1678.3 1090.1 L1679.2 1092.8 L1680.2 1096.8 L1681.1 1095.1 L1682.1 1093.1 L1683.0 1093.9 L1684.0 1093.4 L1685.1 1092.2 L1686.3 1092.7 L1687.4 1089.3 L1688.5 1084.3 L1689.6 1090.0 L1690.7 1088.2 L1691.8 1087.6 L1693.0 1079.9 L1694.1 1077.0 L1694.9 1073.8 L1695.7 1075.8 L1696.8 1066.6 L1698.0 1065.3 L1699.1 1063.5 L1700.1 1061.5 L1701.0 1062.3 L1702.0 1067.9 L1702.9 1065.4 L1703.9 1062.3 L1704.8 1063.3 L1705.8 1067.0 L1706.6 1071.6 L1707.4 1073.3 L1708.5 1077.1 L1709.5 1081.6 L1710.5 1086.9 L1711.6 1091.1 L1712.8 1087.1 L1714.1 1083.2 L1715.2 1084.1 L1716.4 1089.1 L1717.5 1089.0 L1718.8 1083.5 L1720.0 1084.4 L1721.0 1082.0 L1722.0 1079.4 L1723.0 1076.0 L1724.0 1072.9 L1725.0 1073.9 L1725.9 1070.4 L1726.9 1076.4 L1727.9 1072.7 L1728.9 1066.3 L1729.9 1067.4 L1730.7 1062.5 L1731.4 1057.8 L1732.3 1050.9 L1733.2 1060.7 L1734.0 1058.3 L1734.9 1061.8 L1735.9 1051.6 L1736.8 1054.4 L1737.8 1052.3 L1738.8 1049.5 L1739.8 1054.6 L1740.8 1059.8 L1741.8 1064.8 L1742.8 1060.9 L1743.8 1064.2 L1744.8 1065.8 L1745.8 1069.9 L1746.7 1071.8 L1747.7 1076.2 L1748.7 1073.3 L1749.7 1070.1 L1750.7 1065.7 L1751.7 1064.8 L1752.7 1066.8 L1753.7 1064.9 L1754.7 1061.7 L1755.7 1060.5 L1756.7 1065.2 L1757.6 1059.6 L1758.6 1062.7 L1759.6 1063.9 L1760.6 1063.5 L1761.6 1069.5 L1762.6 1066.8 L1763.6 1074.6 L1764.6 1074.8 L1765.6 1070.0 L1766.6 1075.6 L1767.5 1071.4 L1768.5 1076.8 L1769.5 1071.5 L1770.6 1073.9 L1771.8 1076.0 L1772.9 1075.4 L1774.0 1078.0 L1774.9 1074.9 L1775.8 1077.0 L1776.6 1074.3 L1777.5 1073.8 L1778.5 1068.9 L1779.5 1078.9 L1780.5 1077.3 L1781.4 1073.9 L1782.4 1080.1 L1783.4 1082.4 L1784.4 1083.3 L1785.4 1076.9 L1786.4 1083.0 L1787.4 1077.9 L1788.4 1085.6 L1789.3 1081.2 L1790.3 1085.0 L1791.3 1080.8 L1792.3 1077.3 L1793.3 1081.6 L1794.3 1079.7 L1795.3 1079.9 L1796.3 1076.8 L1797.3 1071.7 L1798.3 1067.5 L1799.3 1071.3 L1800.2 1072.4 L1801.2 1075.3 L1802.2 1079.1 L1803.2 1085.7 L1804.2 1083.1 L1805.2 1079.6 L1806.2 1078.8 L1807.2 1080.6 L1808.2 1084.1 L1809.2 1088.2 L1810.2 1089.0 L1811.2 1085.1 L1812.2 1083.3 L1813.1 1091.3 L1814.1 1088.2 L1815.1 1091.1 L1816.1 1085.9 L1817.1 1091.3 L1818.1 1094.2 L1819.1 1089.0 L1820.0 1090.1 L1821.0 1092.0 L1822.0 1094.3 L1823.0 1097.0 L1824.0 1091.8 L1825.0 1090.8 L1826.0 1096.3 L1827.0 1097.8 L1828.0 1096.2 L1829.0 1092.7 L1830.0 1096.5 L1830.9 1094.9 L1831.9 1092.6 L1832.9 1092.3 L1833.9 1096.9 L1834.8 1096.0 L1835.7 1090.2 L1836.5 1084.6 L1837.4 1088.1 L1838.5 1089.4 L1839.6 1089.2 L1840.7 1092.5 L1841.8 1089.5 L1842.8 1089.2 L1843.8 1087.0 L1844.8 1087.7 L1846.0 1086.9 L1847.3 1078.5 L1848.5 1087.2 L1849.8 1088.3 L1850.8 1087.8 L1851.7 1088.8 L1852.7 1093.4 L1853.7 1088.5 L1854.7 1089.0 L1855.7 1086.7 L1856.7 1091.1 L1857.7 1093.7 L1858.6 1090.3 L1859.5 1088.8 L1860.3 1085.9 L1861.2 1085.7 L1862.2 1082.1 L1863.2 1089.5 L1864.1 1086.4 L1865.1 1085.3 L1866.3 1088.1 L1867.6 1089.9 L1868.6 1094.6 L1869.6 1095.4 L1870.6 1089.2 L1871.6 1093.1 L1873.0 1088.7 L1874.0 1092.2 L1875.0 1091.9 L1876.0 1097.1 L1877.2 1089.0 L1878.5 1083.2 L1879.8 1088.0 L1881.0 1094.1 L1882.2 1088.6 L1883.4 1085.1 L1884.4 1083.7 L1885.4 1079.7 L1886.4 1086.3 L1887.4 1082.1 L1888.4 1090.6 L1889.4 1086.9 L1890.4 1090.2 L1891.4 1088.2 L1892.5 1087.4 L1893.5 1087.2" fill="none" stroke="#000" stroke-width="3" stroke-linejoin="round" stroke-linecap="round" shape-rendering="crispEdges"/>
<g shape-rendering="crispEdges"><circle cx="503.00" cy="1087.40" r="15.05" fill="#FF0080"/><circle cx="498.40" cy="1082.30" r="7.30" fill="#FF66B3"/><circle cx="498.40" cy="1082.30" r="5.30" fill="#FF9FCF"/><circle cx="498.40" cy="1082.30" r="4.20" fill="#FFC8E3"/><circle cx="498.40" cy="1082.30" r="2.90" fill="#FFF7FB"/></g>
<g shape-rendering="crispEdges"><circle cx="600.00" cy="150.00" r="15.05" fill="#FF0080"/><circle cx="595.40" cy="144.90" r="7.30" fill="#FF66B3"/><circle cx="595.40" cy="144.90" r="5.30" fill="#FF9FCF"/><circle cx="595.40" cy="144.90" r="4.20" fill="#FFC8E3"/><circle cx="595.40" cy="144.90" r="2.90" fill="#FFF7FB"/></g>
<g shape-rendering="crispEdges"><circle cx="612.20" cy="477.00" r="15.05" fill="#FF0080"/><circle cx="607.60" cy="471.90" r="7.30" fill="#FF66B3"/><circle cx="607.60" cy="471.90" r="5.30" fill="#FF9FCF"/><circle cx="607.60" cy="471.90" r="4.20" fill="#FFC8E3"/><circle cx="607.60" cy="471.90" r="2.90" fill="#FFF7FB"/></g>
<g shape-rendering="crispEdges"><circle cx="688.40" cy="1000.20" r="15.05" fill="#FF0080"/><circle cx="683.80" cy="995.10" r="7.30" fill="#FF66B3"/><circle cx="683.80" cy="995.10" r="5.30" fill="#FF9FCF"/><circle cx="683.80" cy="995.10" r="4.20" fill="#FFC8E3"/><circle cx="683.80" cy="995.10" r="2.90" fill="#FFF7FB"/></g>
<g shape-rendering="crispEdges"><circle cx="726.00" cy="1022.00" r="15.05" fill="#FF0080"/><circle cx="721.40" cy="1016.90" r="7.30" fill="#FF66B3"/><circle cx="721.40" cy="1016.90" r="5.30" fill="#FF9FCF"/><circle cx="721.40" cy="1016.90" r="4.20" fill="#FFC8E3"/><circle cx="721.40" cy="1016.90" r="2.90" fill="#FFF7FB"/></g>
<g shape-rendering="crispEdges"><circle cx="798.00" cy="989.30" r="15.05" fill="#FF0080"/><circle cx="793.40" cy="984.20" r="7.30" fill="#FF66B3"/><circle cx="793.40" cy="984.20" r="5.30" fill="#FF9FCF"/><circle cx="793.40" cy="984.20" r="4.20" fill="#FFC8E3"/><circle cx="793.40" cy="984.20" r="2.90" fill="#FFF7FB"/></g>
<g shape-rendering="crispEdges"><circle cx="827.00" cy="804.00" r="15.05" fill="#FF0080"/><circle cx="822.40" cy="798.90" r="7.30" fill="#FF66B3"/><circle cx="822.40" cy="798.90" r="5.30" fill="#FF9FCF"/><circle cx="822.40" cy="798.90" r="4.20" fill="#FFC8E3"/><circle cx="822.40" cy="798.90" r="2.90" fill="#FFF7FB"/></g>
<g shape-rendering="crispEdges"><circle cx="923.00" cy="1065.60" r="15.05" fill="#FF0080"/><circle cx="918.40" cy="1060.50" r="7.30" fill="#FF66B3"/><circle cx="918.40" cy="1060.50" r="5.30" fill="#FF9FCF"/><circle cx="918.40" cy="1060.50" r="4.20" fill="#FFC8E3"/><circle cx="918.40" cy="1060.50" r="2.90" fill="#FFF7FB"/></g>
<g shape-rendering="crispEdges"><circle cx="978.20" cy="695.00" r="15.05" fill="#FF0080"/><circle cx="973.60" cy="689.90" r="7.30" fill="#FF66B3"/><circle cx="973.60" cy="689.90" r="5.30" fill="#FF9FCF"/><circle cx="973.60" cy="689.90" r="4.20" fill="#FFC8E3"/><circle cx="973.60" cy="689.90" r="2.90" fill="#FFF7FB"/></g>
<g shape-rendering="crispEdges"><circle cx="1009.00" cy="956.60" r="15.05" fill="#FF0080"/><circle cx="1004.40" cy="951.50" r="7.30" fill="#FF66B3"/><circle cx="1004.40" cy="951.50" r="5.30" fill="#FF9FCF"/><circle cx="1004.40" cy="951.50" r="4.20" fill="#FFC8E3"/><circle cx="1004.40" cy="951.50" r="2.90" fill="#FFF7FB"/></g>
<g shape-rendering="crispEdges"><circle cx="1027.00" cy="1011.10" r="15.05" fill="#FF0080"/><circle cx="1022.40" cy="1006.00" r="7.30" fill="#FF66B3"/><circle cx="1022.40" cy="1006.00" r="5.30" fill="#FF9FCF"/><circle cx="1022.40" cy="1006.00" r="4.20" fill="#FFC8E3"/><circle cx="1022.40" cy="1006.00" r="2.90" fill="#FFF7FB"/></g>
<g shape-rendering="crispEdges"><circle cx="1050.00" cy="858.50" r="15.05" fill="#FF0080"/><circle cx="1045.40" cy="853.40" r="7.30" fill="#FF66B3"/><circle cx="1045.40" cy="853.40" r="5.30" fill="#FF9FCF"/><circle cx="1045.40" cy="853.40" r="4.20" fill="#FFC8E3"/><circle cx="1045.40" cy="853.40" r="2.90" fill="#FFF7FB"/></g>
<g shape-rendering="crispEdges"><circle cx="1094.20" cy="902.10" r="15.05" fill="#FF0080"/><circle cx="1089.60" cy="897.00" r="7.30" fill="#FF66B3"/><circle cx="1089.60" cy="897.00" r="5.30" fill="#FF9FCF"/><circle cx="1089.60" cy="897.00" r="4.20" fill="#FFC8E3"/><circle cx="1089.60" cy="897.00" r="2.90" fill="#FFF7FB"/></g>
<g shape-rendering="crispEdges"><circle cx="1241.00" cy="1098.30" r="15.05" fill="#FF0080"/><circle cx="1236.40" cy="1093.20" r="7.30" fill="#FF66B3"/><circle cx="1236.40" cy="1093.20" r="5.30" fill="#FF9FCF"/><circle cx="1236.40" cy="1093.20" r="4.20" fill="#FFC8E3"/><circle cx="1236.40" cy="1093.20" r="2.90" fill="#FFF7FB"/></g>
<g shape-rendering="crispEdges"><circle cx="1273.00" cy="1098.30" r="15.05" fill="#FF0080"/><circle cx="1268.40" cy="1093.20" r="7.30" fill="#FF66B3"/><circle cx="1268.40" cy="1093.20" r="5.30" fill="#FF9FCF"/><circle cx="1268.40" cy="1093.20" r="4.20" fill="#FFC8E3"/><circle cx="1268.40" cy="1093.20" r="2.90" fill="#FFF7FB"/></g>
<g shape-rendering="crispEdges"><circle cx="1292.40" cy="1120.10" r="15.05" fill="#FF0080"/><circle cx="1287.80" cy="1115.00" r="7.30" fill="#FF66B3"/><circle cx="1287.80" cy="1115.00" r="5.30" fill="#FF9FCF"/><circle cx="1287.80" cy="1115.00" r="4.20" fill="#FFC8E3"/><circle cx="1287.80" cy="1115.00" r="2.90" fill="#FFF7FB"/></g>
<g shape-rendering="crispEdges"><circle cx="1375.00" cy="1141.90" r="15.05" fill="#FF0080"/><circle cx="1370.40" cy="1136.80" r="7.30" fill="#FF66B3"/><circle cx="1370.40" cy="1136.80" r="5.30" fill="#FF9FCF"/><circle cx="1370.40" cy="1136.80" r="4.20" fill="#FFC8E3"/><circle cx="1370.40" cy="1136.80" r="2.90" fill="#FFF7FB"/></g>
<g shape-rendering="crispEdges"><circle cx="1405.60" cy="1163.70" r="15.05" fill="#FF0080"/><circle cx="1401.00" cy="1158.60" r="7.30" fill="#FF66B3"/><circle cx="1401.00" cy="1158.60" r="5.30" fill="#FF9FCF"/><circle cx="1401.00" cy="1158.60" r="4.20" fill="#FFC8E3"/><circle cx="1401.00" cy="1158.60" r="2.90" fill="#FFF7FB"/></g>
<g shape-rendering="crispEdges"><circle cx="1536.20" cy="1131.00" r="15.05" fill="#FF0080"/><circle cx="1531.60" cy="1125.90" r="7.30" fill="#FF66B3"/><circle cx="1531.60" cy="1125.90" r="5.30" fill="#FF9FCF"/><circle cx="1531.60" cy="1125.90" r="4.20" fill="#FFC8E3"/><circle cx="1531.60" cy="1125.90" r="2.90" fill="#FFF7FB"/></g>
<g shape-rendering="crispEdges"><circle cx="1571.00" cy="1098.30" r="15.05" fill="#FF0080"/><circle cx="1566.40" cy="1093.20" r="7.30" fill="#FF66B3"/><circle cx="1566.40" cy="1093.20" r="5.30" fill="#FF9FCF"/><circle cx="1566.40" cy="1093.20" r="4.20" fill="#FFC8E3"/><circle cx="1566.40" cy="1093.20" r="2.90" fill="#FFF7FB"/></g>
<path d="M297.0 41.5 L297.0 1349.0 M297.0 1349.0 L1897.0 1349.0 M297.0 1349.00 L284.0 1349.00 M297.0 1240.00 L271.0 1240.00 M297.0 1131.00 L284.0 1131.00 M297.0 1022.00 L271.0 1022.00 M297.0 913.00 L284.0 913.00 M297.0 804.00 L271.0 804.00 M297.0 695.00 L284.0 695.00 M297.0 586.00 L271.0 586.00 M297.0 477.00 L284.0 477.00 M297.0 368.00 L271.0 368.00 M297.0 259.00 L284.0 259.00 M297.0 150.00 L271.0 150.00 M297.0 41.00 L284.0 41.00 M297.00 1349.0 L297.00 1375.0 M297.00 41.5 L297.00 67.6 M397.00 1349.0 L397.00 1362.0 M397.00 41.5 L397.00 54.6 M497.00 1349.0 L497.00 1375.0 M497.00 41.5 L497.00 67.6 M597.00 1349.0 L597.00 1362.0 M597.00 41.5 L597.00 54.6 M697.00 1349.0 L697.00 1375.0 M697.00 41.5 L697.00 67.6 M797.00 1349.0 L797.00 1362.0 M797.00 41.5 L797.00 54.6 M897.00 1349.0 L897.00 1375.0 M897.00 41.5 L897.00 67.6 M997.00 1349.0 L997.00 1362.0 M997.00 41.5 L997.00 54.6 M1097.00 1349.0 L1097.00 1375.0 M1097.00 41.5 L1097.00 67.6 M1197.00 1349.0 L1197.00 1362.0 M1197.00 41.5 L1197.00 54.6 M1297.00 1349.0 L1297.00 1375.0 M1297.00 41.5 L1297.00 67.6 M1397.00 1349.0 L1397.00 1362.0 M1397.00 41.5 L1397.00 54.6 M1497.00 1349.0 L1497.00 1375.0 M1497.00 41.5 L1497.00 67.6 M1597.00 1349.0 L1597.00 1362.0 M1597.00 41.5 L1597.00 54.6 M1697.00 1349.0 L1697.00 1375.0 M1697.00 41.5 L1697.00 67.6 M1797.00 1349.0 L1797.00 1362.0 M1797.00 41.5 L1797.00 54.6 M1897.00 1349.0 L1897.00 1375.0 M1897.00 41.5 L1897.00 67.6" fill="none" stroke="#000" stroke-width="6" stroke-linecap="round" shape-rendering="crispEdges"/>
<path d="M297.0 41.5 L1897.0 41.5" stroke="#000" stroke-width="7" stroke-linecap="round" shape-rendering="crispEdges"/>
<path d="M1896.5 1348.50 L1909.5 1348.50 M1896.5 1239.50 L1922.5 1239.50 M1896.5 1130.50 L1909.5 1130.50 M1896.5 1021.50 L1922.5 1021.50 M1896.5 912.50 L1909.5 912.50 M1896.5 803.50 L1922.5 803.50 M1896.5 694.50 L1909.5 694.50 M1896.5 585.50 L1922.5 585.50 M1896.5 476.50 L1909.5 476.50 M1896.5 367.50 L1922.5 367.50 M1896.5 258.50 L1909.5 258.50 M1896.5 149.50 L1922.5 149.50 M1896.5 40.50 L1909.5 40.50" fill="none" stroke="#FF0080" stroke-width="7" stroke-linecap="round" shape-rendering="crispEdges"/>
<path d="M1896.5 41.5 L1896.5 1349.0" fill="none" stroke="#FF0080" stroke-width="7" stroke-linecap="round" shape-rendering="crispEdges"/>
<text transform="translate(252.7 1259.7) scale(0.988 1.04)" text-anchor="end">0</text>
<text transform="translate(1940.5 1259.7) scale(0.988 1.04)" fill="#FF0080">0</text>
<text transform="translate(252.7 1041.7) scale(0.988 1.04)" text-anchor="end">20</text>
<text transform="translate(1940.5 1041.7) scale(0.988 1.04)" fill="#FF0080">20</text>
<text transform="translate(252.7 823.7) scale(0.988 1.04)" text-anchor="end">40</text>
<text transform="translate(1940.5 823.7) scale(0.988 1.04)" fill="#FF0080">40</text>
<text transform="translate(252.7 605.7) scale(0.988 1.04)" text-anchor="end">60</text>
<text transform="translate(1940.5 605.7) scale(0.988 1.04)" fill="#FF0080">60</text>
<text transform="translate(252.7 387.7) scale(0.988 1.04)" text-anchor="end">80</text>
<text transform="translate(1940.5 387.7) scale(0.988 1.04)" fill="#FF0080">80</text>
<text transform="translate(252.7 169.7) scale(0.988 1.04)" text-anchor="end">100</text>
<text transform="translate(1940.5 169.7) scale(0.988 1.04)" fill="#FF0080">100</text>
<text transform="translate(296.5 1448.3) scale(0.988 1.04)" text-anchor="middle">10</text>
<text transform="translate(496.5 1448.3) scale(0.988 1.04)" text-anchor="middle">20</text>
<text transform="translate(696.5 1448.3) scale(0.988 1.04)" text-anchor="middle">30</text>
<text transform="translate(896.5 1448.3) scale(0.988 1.04)" text-anchor="middle">40</text>
<text transform="translate(1096.5 1448.3) scale(0.988 1.04)" text-anchor="middle">50</text>
<text transform="translate(1296.5 1448.3) scale(0.988 1.04)" text-anchor="middle">60</text>
<text transform="translate(1496.5 1448.3) scale(0.988 1.04)" text-anchor="middle">70</text>
<text transform="translate(1696.5 1448.3) scale(0.988 1.04)" text-anchor="middle">80</text>
<text transform="translate(1896.5 1448.3) scale(0.988 1.04)" text-anchor="middle">90</text>
<text transform="translate(1093.7 1561.9) scale(0.988 1.0)" text-anchor="middle">2-Theta</text>
<text transform="translate(92.1 742.7) rotate(-90) scale(0.989 1.0)" text-anchor="middle">Intensity</text>
<path d="M1045.8 131 L1203.4 131" stroke="#000" stroke-width="4" stroke-linecap="round" shape-rendering="crispEdges"/>
<g shape-rendering="crispEdges"><circle cx="1123.97" cy="217.98" r="15.05" fill="#FF0080"/><circle cx="1119.37" cy="212.88" r="7.30" fill="#FF66B3"/><circle cx="1119.37" cy="212.88" r="5.30" fill="#FF9FCF"/><circle cx="1119.37" cy="212.88" r="4.20" fill="#FFC8E3"/><circle cx="1119.37" cy="212.88" r="2.90" fill="#FFF7FB"/></g>
<text transform="translate(1224.5 156.0) scale(1.0 1.0)">Strontium sample</text>
<text transform="translate(1224.5 242.0) scale(1.0 1.0)">Strontium carbonate</text>
<text transform="translate(1225.6 328.9) scale(1.0 1.04)">SrCO<tspan font-size="42.3" dy="26.3">3</tspan><tspan dy="-26.3"> 00-005-0418</tspan></text>
</svg>
</body></html>
